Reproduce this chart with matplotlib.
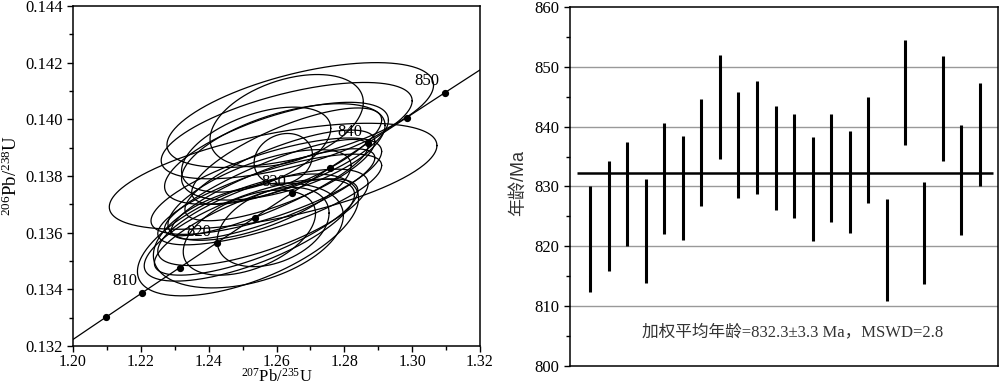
import numpy as np
import matplotlib
matplotlib.use("Agg")
import matplotlib.pyplot as plt
from matplotlib.ticker import MultipleLocator, FormatStrFormatter

plt.rcParams['font.family'] = ['Liberation Serif', 'Noto Sans CJK SC']
plt.rcParams['mathtext.fontset'] = 'custom'
plt.rcParams['mathtext.rm'] = 'Liberation Serif'
plt.rcParams['mathtext.it'] = 'Liberation Serif:italic'

# ---------------- data: concordia ellipses (207Pb/235U, 206Pb/238U) ----------------
ell_cx  = [1.267, 1.259, 1.263, 1.263, 1.262, 1.2516, 1.2517, 1.252,
           1.256, 1.258, 1.257, 1.259, 1.260, 1.262, 1.254, 1.261,
           1.255, 1.252, 1.263, 1.257, 1.259, 1.254]
ell_cy  = [0.14015, 0.13799, 0.13960, 0.13995, 0.13860, 0.13592, 0.13590, 0.13600,
           0.13654, 0.13717, 0.13764, 0.13736, 0.13880, 0.13885, 0.13620, 0.13802,
           0.13733, 0.13609, 0.13870, 0.13759, 0.13620, 0.13893]
ell_a   = [0.0393, 0.0483, 0.0370, 0.0226, 0.0086, 0.0326, 0.0280, 0.0195,
           0.0310, 0.0330, 0.0340, 0.0300, 0.0330, 0.0300, 0.0300, 0.0280,
           0.0270, 0.0310, 0.0280, 0.0300, 0.0165, 0.0220]
ell_b   = [0.00185, 0.00187, 0.00170, 0.00163, 0.00090, 0.00215, 0.00185, 0.00150,
           0.00170, 0.00160, 0.00170, 0.00160, 0.00180, 0.00170, 0.00170, 0.00160,
           0.00160, 0.00180, 0.00170, 0.00170, 0.00140, 0.00150]
ell_rho = [0.57, 0.58, 0.62, 0.40, 0.15, 0.60, 0.38, 0.45,
           0.70, 0.75, 0.72, 0.80, 0.65, 0.55, 0.75, 0.75,
           0.65, 0.70, 0.75, 0.85, 0.35, 0.50]

# concordia tick ages (Ma) and labelled ages
conc_dot_ages = [805, 810, 815, 820, 825, 830, 835, 840, 845, 850]
conc_label_ages = [810, 820, 830, 840, 850]
LAMBDA238 = 1.55125e-10
LAMBDA235 = 9.8485e-10

# ---------------- data: weighted mean age plot ----------------
age_low  = [812.4, 815.9, 820.0, 813.8, 822.0, 821.1, 826.7, 834.6, 828.1, 828.8, 826.1,
            824.8, 820.9, 824.1, 822.2, 827.3, 810.8, 837.0, 813.6, 834.3, 821.8, 830.0]
age_high = [830.0, 834.3, 837.4, 831.3, 840.7, 838.4, 844.7, 852.0, 845.8, 847.6, 843.4,
            842.2, 838.3, 842.2, 839.3, 844.9, 827.9, 854.6, 830.8, 851.8, 840.3, 847.3]
mean_age = 832.3
mean_text = "加权平均年龄=832.3±3.3 Ma，MSWD=2.8"

# ---------------- figure ----------------
fig = plt.figure(figsize=(10, 3.86), dpi=100)
ax1 = fig.add_axes([0.073, 0.1036, 0.407, 0.881])
ax2 = fig.add_axes([0.570, 0.0526, 0.428, 0.9285])

# concordia curve
t = np.linspace(795, 860, 400) * 1e6
ax1.plot(np.exp(LAMBDA235 * t) - 1, np.exp(LAMBDA238 * t) - 1, color='black', lw=0.9, zorder=3)
td = np.array(conc_dot_ages) * 1e6
ax1.plot(np.exp(LAMBDA235 * td) - 1, np.exp(LAMBDA238 * td) - 1, 'o', color='black', ms=4.2, zorder=4)
for age in conc_label_ages:
    ta = age * 1e6
    ax1.annotate(str(age), (np.exp(LAMBDA235 * ta) - 1, np.exp(LAMBDA238 * ta) - 1),
                 xytext=(-13, 8), textcoords='offset points', ha='center', va='center',
                 fontsize=12, zorder=5)

# ellipses
th = np.linspace(0, 2 * np.pi, 300)
for cx, cy, a, b, r in zip(ell_cx, ell_cy, ell_a, ell_b, ell_rho):
    xs = cx + a * np.cos(th)
    ys = cy + b * (r * np.cos(th) + np.sqrt(1 - r * r) * np.sin(th))
    ax1.plot(xs, ys, color='black', lw=0.9, zorder=2)

ax1.set_xlim(1.20, 1.32)
ax1.set_ylim(0.132, 0.144)
ax1.xaxis.set_major_locator(MultipleLocator(0.02))
ax1.xaxis.set_minor_locator(MultipleLocator(0.01))
ax1.yaxis.set_major_locator(MultipleLocator(0.002))
ax1.yaxis.set_minor_locator(MultipleLocator(0.001))
ax1.xaxis.set_major_formatter(FormatStrFormatter('%.2f'))
ax1.yaxis.set_major_formatter(FormatStrFormatter('%.3f'))
ax1.tick_params(which='both', direction='out', top=False, right=False, labelsize=12, width=1)
ax1.tick_params(which='major', length=4)
ax1.tick_params(which='minor', length=3)
ax1.tick_params(axis='x', which='major', pad=1.5, labelsize=11.5)
for s in ax1.spines.values():
    s.set_linewidth(1.1)
ax1.text(0.5, -0.106, r'$\mathregular{^{207}Pb/^{235}U}$', transform=ax1.transAxes,
         ha='center', va='baseline', fontsize=12)
ax1.set_ylabel(r'$\mathregular{^{206}Pb/^{238}U}$', fontsize=13.5)
ax1.yaxis.set_label_coords(-0.128, 0.5)

# weighted mean plot
idx = np.arange(1, len(age_low) + 1)
for yv in [810, 820, 830, 840, 850]:
    ax2.axhline(yv, color='#999999', lw=1.0, zorder=1)
ax2.vlines(idx, age_low, age_high, color='black', lw=2.2, zorder=3)
ax2.hlines(mean_age, 0.3, 22.7, color='black', lw=1.8, zorder=4)
ax2.set_xlim(-0.075, 22.99)
ax2.set_ylim(800, 860)
ax2.yaxis.set_major_locator(MultipleLocator(10))
ax2.yaxis.set_minor_locator(MultipleLocator(5))
ax2.set_xticks([])
ax2.tick_params(axis='y', which='both', direction='out', right=False, labelsize=12, width=1)
ax2.tick_params(axis='y', which='major', length=4)
ax2.tick_params(axis='y', which='minor', length=3)
for s in ax2.spines.values():
    s.set_linewidth(1.1)
ax2.set_ylabel('年龄/Ma', fontsize=13, color='#333333', family=['Liberation Sans', 'Noto Sans CJK SC'])
ax2.yaxis.set_label_coords(-0.10, 0.51)
ax2.text(0.52, 0.092, mean_text, transform=ax2.transAxes, ha='center', va='center',
         fontsize=12, color='#333333', family=['Liberation Serif', 'Noto Sans CJK SC'])

fig.savefig('out.png', dpi=100)
